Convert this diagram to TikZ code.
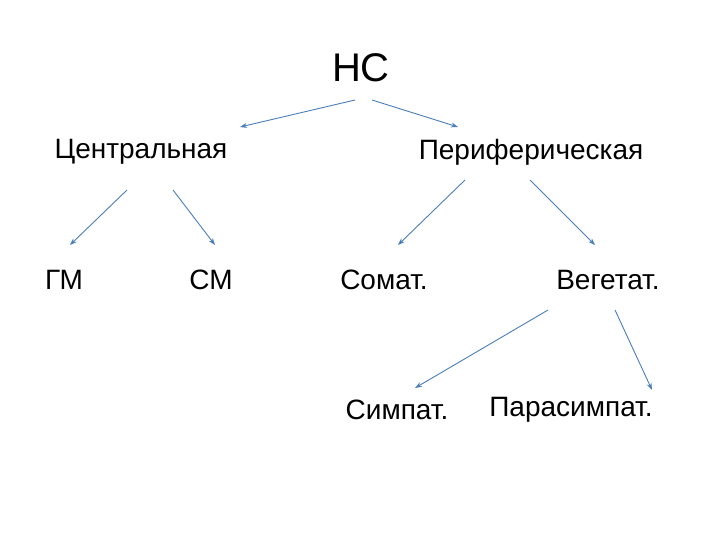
\documentclass[tikz,border=0pt]{standalone}
\usepackage{fontspec}
\setmainfont{Liberation Sans}
\usetikzlibrary{arrows.meta}
\definecolor{arr}{HTML}{4A7EBB}
\begin{document}
\begin{tikzpicture}[x=1pt,y=-1pt,
  lbl/.style={inner sep=0pt,font=\fontsize{28}{30}\selectfont},
  con/.style={draw=arr,line width=0.9pt,-{Stealth[length=7pt,width=5pt]}}]
\useasboundingbox (0,0) rectangle (720,540);
\node[lbl,font=\fontsize{40}{42}\selectfont] (nc) at (361,68) {НС};
\node[lbl] (c) at (141,152) {Центральная};
\node[lbl] (p) at (531,152) {Периферическая};
\node[lbl] (gm) at (64,280) {ГМ};
\node[lbl] (sm) at (211,280) {СМ};
\node[lbl] (so) at (384,280) {Сомат.};
\node[lbl] (ve) at (608,280) {Вегетат.};
\node[lbl] (si) at (397,410) {Симпат.};
\node[lbl] (pa) at (571,410) {Парасимпат.};
\coordinate (a1) at (355,100); \coordinate (b1) at (240,127);
\coordinate (a2) at (372,100); \coordinate (b2) at (458,127);
\coordinate (a3) at (127,190); \coordinate (b3) at (70,245);
\coordinate (a4) at (173,190); \coordinate (b4) at (215,245);
\coordinate (a5) at (465,180); \coordinate (b5) at (398,245);
\coordinate (a6) at (530,180); \coordinate (b6) at (595,245);
\coordinate (a7) at (548,310); \coordinate (b7) at (415,388);
\coordinate (a8) at (615,310); \coordinate (b8) at (652,390);
\foreach \i in {1,...,8} \draw[con] (a\i) -- (b\i);
\end{tikzpicture}
\end{document}
